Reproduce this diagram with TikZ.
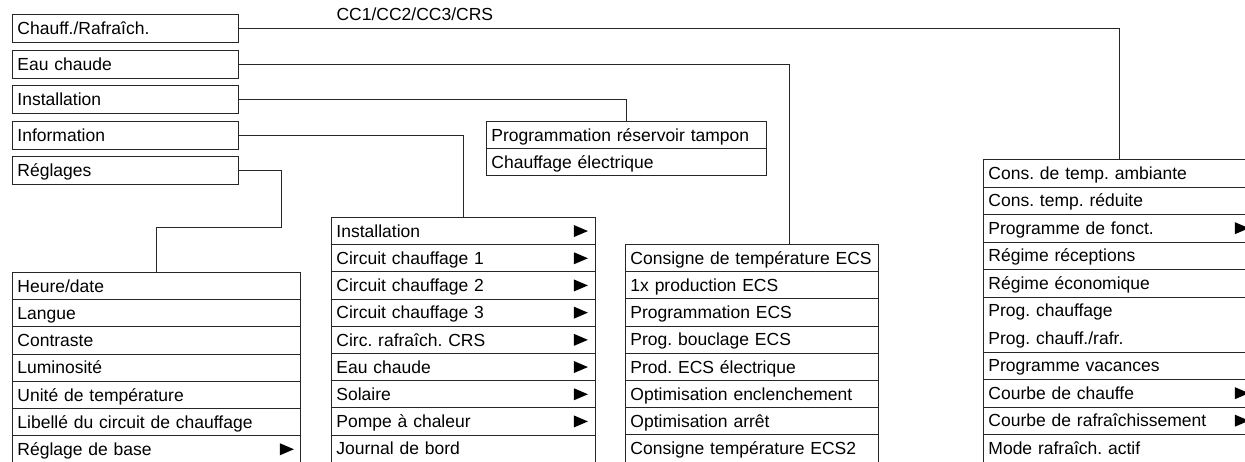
\documentclass[tikz,border=0pt]{standalone}
\usepackage{fontspec}
\setmainfont{Liberation Sans}
\usetikzlibrary{calc}
\frenchspacing
\begin{document}
\begin{tikzpicture}[x=1pt,y=-1pt,
  every node/.style={font=\fontsize{17.5}{20}\selectfont},
  lw/.style={line width=0.9pt, draw=black!85},
  row/.style={lw, draw, anchor=north west, inner xsep=5pt, inner ysep=0pt, align=left, text height=16.4pt, text depth=4pt},
  topbox/.style={row, minimum height=28pt, text width=216pt},
  lrow/.style={row, minimum height=27.2pt, text width=278pt},
  mrow/.style={row, minimum height=27.2pt, text width=254pt},
  erow/.style={row, minimum height=27.2pt, text width=243pt},
  prow/.style={row, minimum height=27pt, text width=270pt},
  rrow/.style={row, minimum height=27.5pt, text width=263pt},
  conn/.style={lw}]
\useasboundingbox (0,0) rectangle (1245,461);
\newcommand\tri[2][22]{\fill[black] ($(#2.east)+(-#1,-6)$) -- ++(14,6) -- ++(-14,6) -- cycle;}

% top-level boxes
\node[topbox] (chauff) at (12,14) {Chauff./Rafraîch.};
\node[topbox] (eau) at (12,50) {Eau chaude};
\node[topbox] (inst) at (12,85) {Installation};
\node[topbox] (info) at (12,121) {Information};
\node[topbox] (regl) at (12,156) {Réglages};

\node[anchor=west] (cclab) at (333,14) {CC1/CC2/CC3/CRS};

% Programmation box
\node[prow] (p1) at (486,121) {Programmation réservoir tampon};
\node[prow] (p2) at (486,148) {Chauffage électrique};

% Réglages menu
\node[lrow] (l1) at (12,272) {Heure/date};
\node[lrow] (l2) at (12,299.2) {Langue};
\node[lrow] (l3) at (12,326.4) {Contraste};
\node[lrow] (l4) at (12,353.6) {Luminosité};
\node[lrow] (l5) at (12,380.8) {Unité de température};
\node[lrow] (l6) at (12,408) {Libellé du circuit de chauffage};
\node[lrow] (l7) at (12,435.2) {Réglage de base};
\tri[21]{l7}

% Information menu
\node[mrow] (m1) at (331,217) {Installation};
\node[mrow] (m2) at (331,244.2) {Circuit chauffage 1};
\node[mrow] (m3) at (331,271.4) {Circuit chauffage 2};
\node[mrow] (m4) at (331,298.6) {Circuit chauffage 3};
\node[mrow] (m5) at (331,325.8) {Circ. rafraîch. CRS};
\node[mrow] (m6) at (331,353) {Eau chaude};
\node[mrow] (m7) at (331,380.2) {Solaire};
\node[mrow] (m8) at (331,407.4) {Pompe à chaleur};
\node[mrow] (m9) at (331,434.6) {Journal de bord};
\foreach \n in {m1,m2,m3,m4,m5,m6,m7,m8} {\tri{\n}}

% Eau chaude menu
\node[erow] (e1) at (625,244) {Consigne de température ECS};
\node[erow] (e2) at (625,271.2) {1x production ECS};
\node[erow] (e3) at (625,298.4) {Programmation ECS};
\node[erow] (e4) at (625,325.6) {Prog. bouclage ECS};
\node[erow] (e5) at (625,352.8) {Prod. ECS électrique};
\node[erow] (e6) at (625,380) {Optimisation enclenchement};
\node[erow] (e7) at (625,407.2) {Optimisation arrêt};
\node[erow] (e8) at (625,434.4) {Consigne température ECS2};

% Chauff./Rafraîch. menu
\node[rrow] (r1) at (983,159) {Cons. de temp. ambiante};
\node[rrow] (r2) at (983,186.5) {Cons. temp. réduite};
\node[rrow] (r3) at (983,214) {Programme de fonct.};
\node[rrow] (r4) at (983,241.5) {Régime réceptions};
\node[rrow] (r5) at (983,269) {Régime économique};
\node[rrow, draw=none] (r6) at (983,296.5) {Prog. chauffage};
\node[rrow, draw=none] (r7) at (983,324) {Prog. chauff./rafr.};
\draw[lw] (r6.north west) -- (r7.south west);
\draw[lw] (r6.north east) -- (r7.south east);
\node[rrow] (r8) at (983,351.5) {Programme vacances};
\node[rrow] (r9) at (983,379) {Courbe de chauffe};
\node[rrow] (r10) at (983,406.5) {Courbe de rafraîchissement};
\node[rrow] (r11) at (983,434) {Mode rafraîch. actif};
\foreach \n in {r3,r9,r10} {\tri{\n}}

% connectors
\coordinate (rtop) at (1119,159);
\coordinate (etop) at (789,244);
\coordinate (ptop) at (626,121);
\coordinate (mtop) at (463,217);
\coordinate (rA) at (281,227);
\coordinate (ltop) at (156,272);
\draw[conn] (chauff.east) -| (rtop);
\draw[conn] (eau.east) -| (etop);
\draw[conn] (inst.east) -| (ptop);
\draw[conn] (info.east) -| (mtop);
\draw[conn] (regl.east) -| (rA) -| (ltop);
\end{tikzpicture}
\end{document}
